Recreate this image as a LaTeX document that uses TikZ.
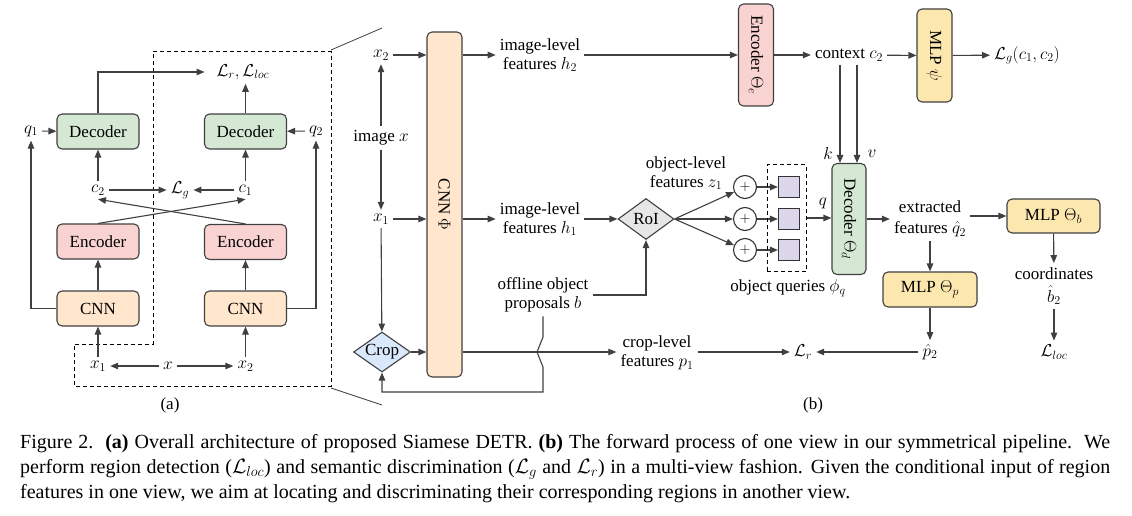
\documentclass[tikz,border=0pt]{standalone}
\usepackage{fontspec}
\setmainfont{Liberation Serif}
\usepackage{tikz}
\usetikzlibrary{calc,arrows.meta,shapes.geometric}
\definecolor{decgreen}{HTML}{D5E8D4}
\definecolor{encpink}{HTML}{F9D3D1}
\definecolor{cnnpeach}{HTML}{FFE6CC}
\definecolor{mlpyellow}{HTML}{FCE8AE}
\definecolor{cropblue}{HTML}{DAE8FC}
\definecolor{roigray}{HTML}{E6E6E6}
\definecolor{qpurple}{HTML}{DCD6EA}
\tikzset{
	blk/.style={draw=black!75, line width=1.1pt, rounded corners=5pt, inner sep=0pt},
	lbl/.style={align=center, inner sep=4pt},
	arr/.style={draw=black!75, line width=1.1pt, -{Triangle[length=8pt,width=6.5pt]}},
	ln/.style={draw=black!75, line width=1.1pt},
	dsh/.style={draw=black, line width=1pt, dash pattern=on 4pt off 3pt},
}

\begin{document}
\begin{tikzpicture}[x=1pt, y=-1pt, font=\fontsize{17}{19}\selectfont]
			%%%%% START %%%%%
			\useasboundingbox (0,0) rectangle (1132,516);
			
			% (a) overall siamese architecture
			\draw[dsh] (153,52) -- (331,52) -- (331,386) -- (74,386) -- (74,344) -- (153,344) -- cycle;
			\draw[ln, line width=0.8pt] (331,50) -- (382,28);
			\draw[ln, line width=0.8pt] (331,388) -- (382,405);
			
			\node[blk, fill=decgreen, minimum width=82pt, minimum height=35pt] (decL) at (98,131.5) {Decoder};
			\node[blk, fill=decgreen, minimum width=82pt, minimum height=35pt] (decR) at (245.5,131.5) {Decoder};
			\node[blk, fill=encpink, minimum width=82pt, minimum height=35pt] (encL) at (98,241.5) {Encoder};
			\node[blk, fill=encpink, minimum width=82pt, minimum height=35pt] (encR) at (245.5,242) {Encoder};
			\node[blk, fill=cnnpeach, minimum width=82pt, minimum height=35pt] (cnnL) at (98,308.5) {CNN};
			\node[blk, fill=cnnpeach, minimum width=82pt, minimum height=35pt] (cnnR) at (245.5,308.5) {CNN};
			
			\node[lbl] (x1a) at (98,366) {$x_1$};
			\node[lbl] (xa) at (168,366) {$x$};
			\node[lbl] (x2a) at (245.5,366) {$x_2$};
			\node[lbl] (c2a) at (98,190) {$c_2$};
			\node[lbl] (Lga) at (180,190) {$\mathcal{L}_g$};
			\node[lbl] (c1a) at (245.5,190) {$c_1$};
			\node[lbl] (q1) at (31,131) {$q_1$};
			\node[lbl] (q2) at (316,131) {$q_2$};
			\node[lbl] (Lra) at (243,72) {$\mathcal{L}_r,\mathcal{L}_{loc}$};
			\node[lbl] (lblA) at (170,405) {(a)};
			
			\draw[arr] (xa) -- (x1a);
			\draw[arr] (xa) -- (x2a);
			\draw[arr] (x1a) -- (cnnL);
			\draw[arr] (x2a) -- (cnnR);
			\draw[arr] (cnnL) -- (encL);
			\draw[arr] (cnnR) -- (encR);
			\draw[arr] (encL.north) -- (c1a.south);
			\draw[arr] (encR.north) -- (c2a.south);
			\draw[arr] (c2a) -- (Lga);
			\draw[arr] (c1a) -- (Lga);
			\draw[arr] (c2a) -- (decL);
			\draw[arr] (c1a) -- (decR);
			\draw[arr] (q1) -- (decL);
			\draw[arr] (q2) -- (decR);
			\draw[arr] (cnnL.west) -| (q1.south);
			\draw[arr] (cnnR.east) -| (q2.south);
			\draw[arr] (decL.north) |- ([xshift=-8pt]Lra.west);
			\draw[arr] (decR.north) -- (decR.north |- Lra.south);
			
			% (b) forward process of one view
			\node[blk, fill=cnnpeach, minimum width=35pt, minimum height=345pt] (cnnB) at (444.5,204.5) {\rotatebox{-90}{CNN $\Phi$}};
			\node[lbl] (x2b) at (381,55) {$x_2$};
			\node[lbl] (imgx) at (381,138) {image $x$};
			\node[lbl] (x1b) at (381,219) {$x_1$};
			\node[diamond, draw=black!75, line width=1.1pt, fill=cropblue, aspect=1.4, inner sep=-1pt, minimum width=57pt, minimum height=40pt] (crop) at (382,352) {Crop};
			
			\node[lbl] (h2) at (540,55) {image-level\\features $h_2$};
			\node[lbl] (h1) at (540,219) {image-level\\features $h_1$};
			\node[diamond, draw=black!75, line width=1.1pt, fill=roigray, aspect=1.4, inner sep=-1pt, minimum width=56pt, minimum height=41pt] (roi) at (646,219) {RoI};
			\node[lbl] (offl) at (543,295) {offline object\\proposals $b$};
			\node[lbl] (p1) at (657,353) {crop-level\\features $p_1$};
			\node[lbl] (Lrb) at (803,352) {$\mathcal{L}_r$};
			
			\node[blk, fill=encpink, minimum width=35pt, minimum height=102pt] (encB) at (756,55) {\rotatebox{-90}{Encoder $\Theta_e$}};
			\node[lbl] (ctx) at (849,55) {context $c_2$};
			\node[blk, fill=mlpyellow, minimum width=35pt, minimum height=93pt] (mlpPsi) at (934.5,55.5) {\rotatebox{-90}{MLP $\psi$}};
			\node[lbl] (Lg) at (1027,55) {$\mathcal{L}_g(c_1,c_2)$};
			
			\node[lbl] (z1) at (686,173) {object-level\\features $z_1$};
			\foreach \i/\y in {1/187,2/219,3/250}{
				\node[circle, draw=black!80, line width=1.1pt, minimum size=23pt, inner sep=0pt, font=\fontsize{15}{15}\selectfont] (plus\i) at (745,\y) {$+$};
				\node[draw=black!80, line width=1.1pt, fill=qpurple, minimum size=21pt, inner sep=0pt] (sq\i) at (789,\y) {};
				\draw[arr] (roi.east) -- (plus\i);
				\draw[arr] (plus\i) -- (sq\i);
			}
			\node[dsh, minimum width=39pt, minimum height=107pt, inner sep=0pt] (qbox) at (786.5,218) {};
			\node[lbl] (phiq) at (788,288) {object queries $\phi_q$};
			
			\node[blk, fill=decgreen, minimum width=34pt, minimum height=111pt] (decB) at (849,219) {\rotatebox{-90}{Decoder $\Theta_d$}};
			\node[lbl] (kl) at (828,154) {$k$};
			\node[lbl] (vl) at (872,154) {$v$};
			\node[lbl] (ql) at (823,203) {$q$};
			
			\node[lbl] (extr) at (930,219) {extracted\\[2pt]features $\hat{q}_2$};
			\node[blk, fill=mlpyellow, minimum width=93pt, minimum height=34pt] (mlpB) at (1053.5,216) {MLP $\Theta_b$};
			\node[lbl] (coord) at (1054,286) {coordinates\\[4pt]$\hat{b}_2$};
			\node[lbl] (Lloc) at (1054,352) {$\mathcal{L}_{loc}$};
			\node[blk, fill=mlpyellow, minimum width=94pt, minimum height=35pt] (mlpP) at (930,289.5) {MLP $\Theta_p$};
			\node[lbl] (p2h) at (930,352) {$\hat{p}_2$};
			\node[lbl] (lblB) at (813,405) {(b)};
			
			\draw[arr] (imgx) -- (x2b);
			\draw[arr] (imgx) -- (x1b);
			\draw[arr] (x1b) -- (crop);
			\draw[arr] (x2b) -- (x2b -| cnnB.west);
			\draw[arr] (x1b) -- (x1b -| cnnB.west);
			\draw[arr] (crop) -- (crop -| cnnB.west);
			\draw[arr] (cnnB.east |- h2) -- (h2);
			\draw[arr] (cnnB.east |- h1) -- (h1);
			\draw[arr] (cnnB.east |- crop) -- (p1.west |- crop);
			\draw[arr] (h2) -- (encB);
			\draw[arr] (h1) -- (roi);
			\draw[arr] (offl.east) -| (roi.south);
			\draw[arr] (offl.south) -- ($(offl.south |- crop)+(0,-15)$) -- ($(offl.south |- crop)+(-6,0)$) -- ($(offl.south |- crop)+(0,15)$) -- ($(offl.south |- crop)+(0,40)$) -| (crop.south);
			\draw[arr] (encB) -- (ctx);
			\draw[arr] (ctx) -- (mlpPsi);
			\draw[arr] (mlpPsi) -- (Lg);
			\draw[arr] ([xshift=-9pt]ctx.south) -- ([xshift=-9pt]ctx.south |- decB.north);
			\draw[arr] ([xshift=8pt]ctx.south) -- ([xshift=8pt]ctx.south |- decB.north);
			\draw[arr] (qbox.east) -- (qbox.east -| decB.west);
			\draw[arr] (decB.east) -- (decB.east -| extr.west);
			\draw[arr] (extr.east |- mlpB) -- (mlpB.west);
			\draw[arr] (extr) -- (mlpP);
			\draw[arr] (mlpP) -- (p2h);
			\draw[arr] (p2h) -- (Lrb);
			\draw[arr] (p1.east |- Lrb) -- (Lrb);
			\draw[arr] (mlpB) -- (coord);
			\draw[arr] (coord) -- (Lloc);
			
			% caption
			\node[anchor=north west, inner sep=0pt, text width=1090pt, align=justify, font=\fontsize{20}{25}\selectfont] (cap) at (20,434) {Figure 2.\ \ \textbf{(a)} Overall architecture of proposed Siamese DETR. \textbf{(b)} The forward process of one view in our symmetrical pipeline.\ \ We\linebreak perform region detection ($\mathcal{L}_{loc}$) and semantic discrimination ($\mathcal{L}_g$ and $\mathcal{L}_r$) in a multi-view fashion. Given the conditional input of region\linebreak features in one view, we aim at locating and discriminating their corresponding regions in another view.};
			
			%%%%% END %%%%%
		\end{tikzpicture}
\end{document}
